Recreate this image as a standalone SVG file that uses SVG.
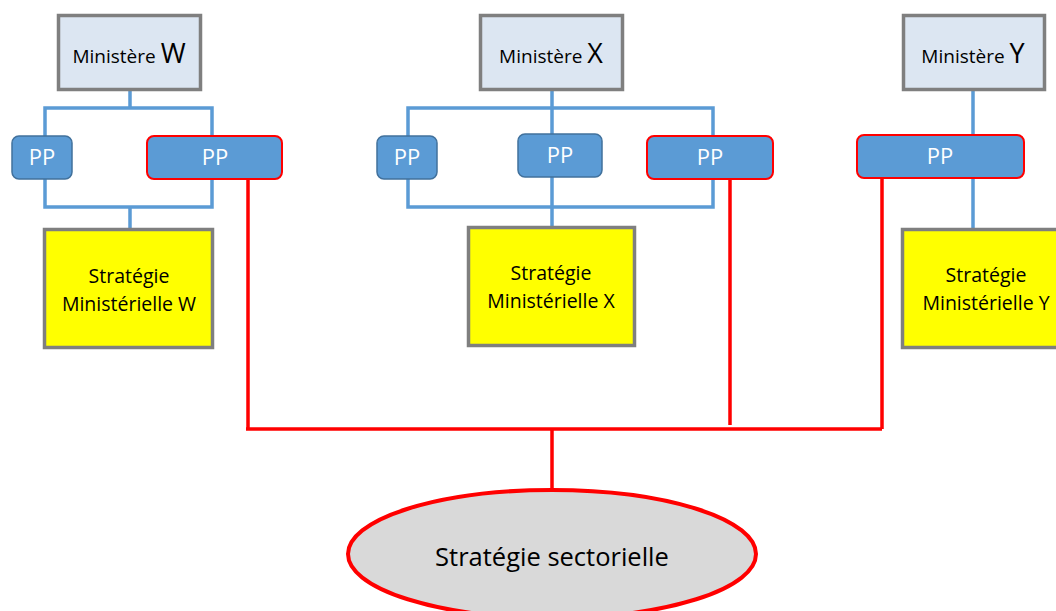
<svg xmlns="http://www.w3.org/2000/svg" width="1056" height="611" viewBox="0 0 1056 611">
  <style>
    .min { fill: #dce6f2; stroke: #7f7f7f; stroke-width: 3.5; }
    .strat { fill: #ffff00; stroke: #7f7f7f; stroke-width: 3.5; }
    .pp { fill: #5b9bd5; stroke: #41719c; stroke-width: 1.5; }
    .pp.red { stroke: #ff0000; stroke-width: 2; }
    .blue { fill: none; stroke: #5b9bd5; stroke-width: 3.5; }
    .redl { fill: none; stroke: #ff0000; stroke-width: 3.5; }
    text { font-family: "Open Sans", "Liberation Sans", sans-serif; text-anchor: middle; }
    .t-min { font-size: 19px; fill: #000; }
    .t-min tspan.big { font-size: 27px; }
    .t-pp { font-size: 22px; fill: #fff; }
    .t-strat { font-size: 19.5px; fill: #000; }
    .t-sect { font-size: 25.5px; fill: #000; }
  </style>

  <!-- connectors -->
  <g id="connectors">
    <!-- ministry W tree -->
    <path class="blue" d="M130 91 V108 M45 136 V108 H212 V136 M45 179 V207 H212 V179 M130 207 V229"/>
    <!-- ministry X tree -->
    <path class="blue" d="M552 91 V134 M408 136 V108 H713 V136 M408 179 V207 H713 V179 M552 177 V227"/>
    <!-- ministry Y -->
    <path class="blue" d="M973 91 V135 M973 178 V229"/>
    <!-- red links to the sector strategy -->
    <path class="redl" d="M248 180 V429 M730 180 V425 M882 179 V429 M246 429 H882 M552 429 V490"/>
  </g>

  <!-- ministry W -->
  <g id="ministere-w">
    <rect class="min" x="58.5" y="15.5" width="142" height="74"/>
    <text class="t-min" x="129" y="63">Ministère <tspan class="big">W</tspan></text>
  </g>
  <g id="pp-w1">
    <rect class="pp" x="12" y="136" width="60" height="43" rx="7"/>
    <text class="t-pp" x="42" y="165">PP</text>
  </g>
  <g id="pp-w2">
    <rect class="pp red" x="147" y="136" width="135" height="43" rx="7"/>
    <text class="t-pp" x="215" y="165">PP</text>
  </g>
  <g id="strategie-w">
    <rect class="strat" x="44.5" y="229.5" width="168" height="118"/>
    <text class="t-strat" x="129" y="283">Stratégie</text>
    <text class="t-strat" x="129" y="311">Ministérielle W</text>
  </g>

  <!-- ministry X -->
  <g id="ministere-x">
    <rect class="min" x="480.5" y="15.5" width="142" height="74"/>
    <text class="t-min" x="551" y="63">Ministère <tspan class="big">X</tspan></text>
  </g>
  <g id="pp-x1">
    <rect class="pp" x="377" y="136" width="60" height="43" rx="7"/>
    <text class="t-pp" x="407" y="165">PP</text>
  </g>
  <g id="pp-x2">
    <rect class="pp" x="518" y="134" width="84" height="43" rx="7"/>
    <text class="t-pp" x="560" y="163">PP</text>
  </g>
  <g id="pp-x3">
    <rect class="pp red" x="647" y="136" width="126" height="43" rx="7"/>
    <text class="t-pp" x="710" y="165">PP</text>
  </g>
  <g id="strategie-x">
    <rect class="strat" x="468.5" y="227.5" width="166" height="118"/>
    <text class="t-strat" x="551" y="280">Stratégie</text>
    <text class="t-strat" x="551" y="308">Ministérielle X</text>
  </g>

  <!-- ministry Y -->
  <g id="ministere-y">
    <rect class="min" x="903.5" y="15.5" width="141" height="74"/>
    <text class="t-min" x="973" y="63">Ministère <tspan class="big">Y</tspan></text>
  </g>
  <g id="pp-y">
    <rect class="pp red" x="857" y="135" width="167" height="43" rx="7"/>
    <text class="t-pp" x="940" y="164">PP</text>
  </g>
  <g id="strategie-y">
    <rect class="strat" x="902.5" y="229.5" width="170" height="118"/>
    <text class="t-strat" x="986" y="282">Stratégie</text>
    <text class="t-strat" x="986" y="310">Ministérielle Y</text>
  </g>

  <!-- sector strategy -->
  <g id="strategie-sectorielle">
    <ellipse cx="552" cy="554" rx="204" ry="64" fill="#d9d9d9" stroke="#ff0000" stroke-width="4"/>
    <text class="t-sect" x="552" y="566">Stratégie sectorielle</text>
  </g>
</svg>
